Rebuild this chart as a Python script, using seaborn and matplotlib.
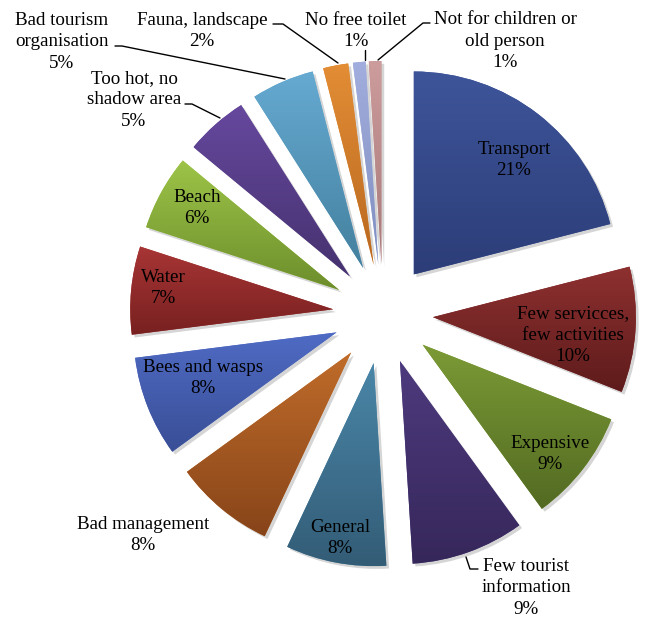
import numpy as np
import matplotlib
matplotlib.use("Agg")
import matplotlib.pyplot as plt
import matplotlib.patheffects as pe
from matplotlib.colors import LinearSegmentedColormap
import seaborn as sns

# ---- data ----
categories = ["Transport", "Few servicces,\nfew activities", "Expensive",
              "Few tourist\ninformation", "General", "Bad management",
              "Bees and wasps", "Water", "Beach", "Too hot, no\nshadow area",
              "Bad tourism\norganisation", "Fauna, landscape", "No free toilet",
              "Not for children or\nold person"]
values = [21, 10, 9, 9, 8, 8, 8, 7, 6, 5, 5, 2, 1, 1]
pct_labels = [f"{v}%" for v in values]

# ---- style ----
top_colors = ["#3E559A", "#8E3030", "#7C9B36", "#4D3A7E", "#4A86A8", "#C06C2A",
              "#4F6BC4", "#A83535", "#9DC448", "#66489E", "#66AAD2", "#E38D35",
              "#A2AEDD", "#CD9C9C"]
bot_colors = ["#2C3D78", "#5E1B1B", "#526A22", "#36275A", "#335C76", "#874419",
              "#394E96", "#782020", "#6D8E2C", "#46326F", "#44809E", "#B86820",
              "#7F8EC0", "#A67878"]

sns.set_theme(style="white")
plt.rcParams["font.family"] = ["Liberation Serif", "DejaVu Serif"]

W, H = 645, 617
fig = plt.figure(figsize=(W / 100, H / 100), dpi=100)
ax = fig.add_axes([0, 0, 1, 1])

cx, cy = 383, H - 314
R = 203
explode = [50] * len(values)
base = sns.color_palette(top_colors)
wedges, _ = ax.pie(values, radius=R, center=(cx, cy), startangle=90,
                   counterclock=False, explode=explode, colors=base,
                   wedgeprops=dict(linewidth=0))

grad = np.linspace(0, 1, 256).reshape(-1, 1)
for w, ct, cb in zip(wedges, top_colors, bot_colors):
    w.set_path_effects([pe.SimplePatchShadow(offset=(2, -2), shadow_rgbFace="k", alpha=0.18),
                        pe.Normal()])
    v = w.get_path().vertices
    x0, y0 = v.min(0)
    x1, y1 = v.max(0)
    cmap = LinearSegmentedColormap.from_list("g", [cb, ct])
    im = ax.imshow(grad, extent=(x0, x1, y0, y1), origin="lower", cmap=cmap,
                   aspect="auto", interpolation="bicubic", zorder=2)
    im.set_clip_path(w)

# label positions (pixel coords, centre of text block)
label_pos = [(514, 160), (573, 335), (550, 454), (526, 588), (340, 538),
             (143, 535), (203, 378), (163, 288), (197, 208), (134, 100),
             (62, 42), (202, 31), (356, 31), (505, 41)]
fs = 13.7
for cat, pct, (x, y) in zip(categories, pct_labels, label_pos):
    ax.text(x, H - y, f"{cat}\n{pct}", ha="center", va="center", fontsize=fs,
            color="black", linespacing=1.35, zorder=5)

# leader lines (pixel coords)
leaders = [
    [(466, 557), (470, 569), (478, 569)],
    [(185, 104), (192, 104), (220, 118)],
    [(115, 46), (122, 46), (285, 79)],
    [(273, 24), (283, 24), (338, 63)],
    [(365, 50), (365, 60)],
    [(430, 23), (423, 23), (378, 60)],
]
for pts in leaders:
    xs = [p[0] for p in pts]
    ys = [H - p[1] for p in pts]
    ax.plot(xs, ys, color="black", lw=1.0, zorder=4)

ax.set_xlim(0, W)
ax.set_ylim(0, H)
ax.set_aspect("auto")
ax.axis("off")
fig.savefig("out.png", dpi=100, facecolor="white")
